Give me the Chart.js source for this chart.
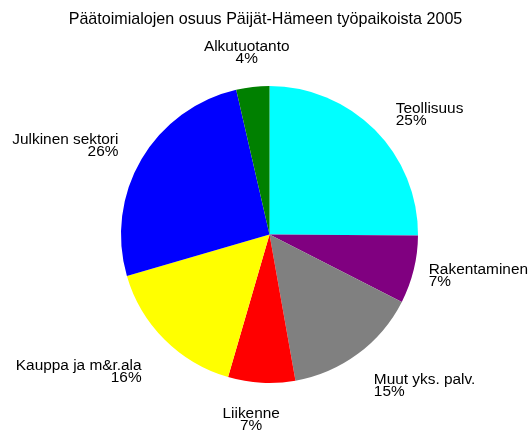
<!DOCTYPE html>
<html>
<head>
<meta charset="utf-8">
<script src="https://cdn.jsdelivr.net/npm/chart.js@4/dist/chart.umd.min.js"></script>
<style>
  html, body { margin: 0; padding: 0; background: #fff; }
  canvas { display: block; }
</style>
</head>
<body>
<canvas id="chart" width="531" height="430"></canvas>
<script>
// Päätoimialat, myötäpäivään klo 12:sta alkaen
const categories = ['Teollisuus', 'Rakentaminen', 'Muut yks. palv.', 'Liikenne', 'Kauppa ja m&r.ala', 'Julkinen sektori', 'Alkutuotanto'];
const shares = [25.1, 7.4, 14.7, 7.3, 16.0, 25.9, 3.6];
const sliceColors = ['#00ffff', '#800080', '#808080', '#ff0000', '#ffff00', '#0000ff', '#008000'];
const chartTitle = 'Päätoimialojen osuus Päijät-Hämeen työpaikoista 2005';

const FONT = '"Liberation Sans", Arial, sans-serif';

// otsikko ja nimet + prosentit viipaleiden ulkopuolelle
const outsideLabels = {
    id: 'outsideLabels',
    afterDraw(chart) {
        const ctx = chart.ctx;
        const meta = chart.getDatasetMeta(0);
        const total = shares.reduce((a, b) => a + b, 0);
        ctx.save();
        ctx.fillStyle = '#000';
        ctx.textBaseline = 'middle';

        ctx.font = '16.1px ' + FONT;
        ctx.textAlign = 'center';
        ctx.fillText(chartTitle, chart.width / 2, 20);

        ctx.font = '15.4px ' + FONT;
        meta.data.forEach((arc, i) => {
            const mid = (arc.startAngle + arc.endAngle) / 2;
            const s = Math.cos(mid);   // vaaka
            const c = -Math.sin(mid);  // pysty (ylös positiivinen)
            const R = arc.outerRadius * 1.18;
            let x = arc.x + R * s;
            let y = arc.y - R * c;
            if (c < -0.4) y += (s < -0.5) ? 13.5 : 10.5;
            else if (c > 0.9) y -= 7.5;
            else if (c > 0.5 && s > 0.5) y += 4;
            let align = 'center';
            if (s > 0.2) align = 'left';
            else if (s < -0.2) align = 'right';
            const w = ctx.measureText(categories[i]).width;
            if (align === 'left' && x + w > chart.width - 3) x = chart.width - 3 - w;
            if (align === 'center') x += -6 + 3 * c;
            if (align === 'right' && c < -0.5) x -= 4;
            if (align === 'left' && c > 0.5) x += 2;
            ctx.textAlign = align;
            const pct = Math.round(shares[i] / total * 100) + '%';
            ctx.fillText(categories[i], x, y - 6);
            ctx.fillText(pct, x, y + 6);
        });
        ctx.restore();
    }
};

const ctx = document.getElementById('chart').getContext('2d');
const chart = new Chart(ctx, {
    type: 'pie',
    data: {
        labels: categories,
        datasets: [{
            data: shares,
            backgroundColor: sliceColors,
            borderWidth: 0
        }]
    },
    options: {
        responsive: false,
        animation: false,
        layout: {
            padding: { top: 86, bottom: 47, left: 121, right: 113 }
        },
        plugins: {
            legend: { display: false },
            tooltip: { enabled: false },
            title: { display: false }
        }
    },
    plugins: [outsideLabels]
});
</script>
</body>
</html>
